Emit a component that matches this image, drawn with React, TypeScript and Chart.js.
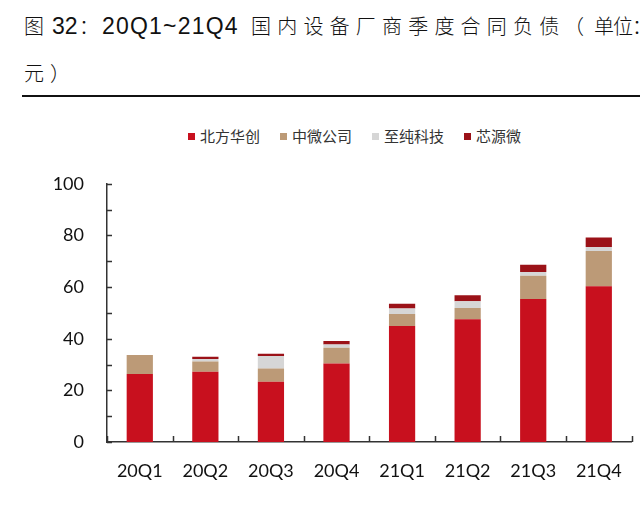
import { useEffect, useRef } from 'react';
import { Chart, registerables } from 'chart.js';

Chart.register(...registerables);

// ─── Data ─────────────────────────────────────────────────────────────────────

const QUARTERS = ['20Q1', '20Q2', '20Q3', '20Q4', '21Q1', '21Q2', '21Q3', '21Q4'];
const NAURA    = [26.3, 27.2, 23.3, 30.4, 44.9, 47.5, 55.4, 60.3]; // 北方华创
const AMEC     = [7.4, 4.0, 5.2, 6.1, 4.7, 4.4, 9.0, 13.7];        // 中微公司
const PNC      = [0, 0.9, 4.8, 1.3, 2.1, 2.6, 1.4, 1.5];           // 至纯科技
const KINGSEMI = [0, 0.9, 0.9, 1.3, 1.8, 2.3, 2.8, 3.7];           // 芯源微
const Y_TICKS  = [0, 20, 40, 60, 80, 100];

const SERIES = [
  { label: '北方华创', data: NAURA,    color: '#C8101E' },
  { label: '中微公司', data: AMEC,     color: '#BC9A77' },
  { label: '至纯科技', data: PNC,      color: '#D6D6D6' },
  { label: '芯源微',   data: KINGSEMI, color: '#9B1218' },
];

const CJK = '"Noto Sans CJK SC", "Liberation Sans", sans-serif';
const LATIN = '"Liberation Sans", Arial, sans-serif';
const AXIS_FONT = { family: 'Lato, "Liberation Sans", sans-serif', size: 18 };
const AXIS_COLOR = '#333';

// inward tick marks on both axes (Excel style)
const innerTicks = {
  id: 'innerTicks',
  afterDraw(chart: Chart) {
    const { ctx } = chart;
    const x = chart.scales.x;
    const y = chart.scales.y;
    ctx.save();
    ctx.strokeStyle = AXIS_COLOR;
    ctx.lineWidth = 1.5;
    ctx.beginPath();
    for (let v = 0; v <= 100; v += 10) {
      const py = Math.round(y.getPixelForValue(v)) + 0.5;
      ctx.moveTo(x.left, py);
      ctx.lineTo(x.left + 5, py);
    }
    const n = QUARTERS.length;
    for (let i = 0; i <= n; i++) {
      let px: number;
      if (i === 0) px = x.left;
      else if (i === n) px = x.right;
      else px = (x.getPixelForValue(i - 1) + x.getPixelForValue(i)) / 2;
      px = Math.round(px) + 0.5;
      ctx.moveTo(px, y.bottom);
      ctx.lineTo(px, y.bottom - 6);
    }
    ctx.stroke();
    ctx.restore();
  },
};

function ContractChart() {
  const canvasRef = useRef<HTMLCanvasElement>(null);
  const chartRef  = useRef<Chart | null>(null);

  useEffect(() => {
    if (!canvasRef.current) return;
    const existing = Chart.getChart(canvasRef.current);
    if (existing) existing.destroy();
    chartRef.current?.destroy();

    chartRef.current = new Chart(canvasRef.current, {
      type: 'bar',
      data: {
        labels: QUARTERS,
        datasets: SERIES.map(s => ({
          label: s.label,
          data: s.data,
          backgroundColor: s.color,
          borderWidth: 0,
          barPercentage: 0.4,
          categoryPercentage: 1,
        })),
      },
      options: {
        animation: false,
        responsive: false,
        maintainAspectRatio: false,
        // top label overflow (~9px) is added on top of this padding
        layout: { padding: { top: 22, right: 5.5, left: 0, bottom: 0 } },
        plugins: {
          legend: { display: false },
          tooltip: { enabled: false },
        },
        scales: {
          x: {
            stacked: true,
            grid: { display: false, drawTicks: false },
            border: { display: true, color: AXIS_COLOR, width: 1.5 },
            ticks: { font: AXIS_FONT, color: '#111', padding: 18, maxRotation: 0 },
            afterFit: (scale: any) => { scale.height = 68; },
          },
          y: {
            stacked: true,
            min: 0,
            max: 100,
            grid: { display: false, drawTicks: false },
            border: { display: true, color: AXIS_COLOR, width: 1.5 },
            ticks: {
              stepSize: 20,
              font: AXIS_FONT,
              color: '#111',
              padding: 23,
              callback: (v: any) => (Y_TICKS.includes(Number(v)) ? String(v) : ''),
            },
            afterFit: (scale: any) => { scale.width = 107; },
          },
        },
      },
      plugins: [innerTicks],
    });

    return () => { chartRef.current?.destroy(); chartRef.current = null; };
  }, []);

  return (
    <canvas
      ref={canvasRef}
      width={640}
      height={360}
      style={{ position: 'absolute', left: 0, top: 150, width: 640, height: 360 }}
    />
  );
}

const T = {
  position: 'absolute' as const, top: 12, lineHeight: '28px', color: '#111',
  whiteSpace: 'nowrap' as const, fontWeight: 300,
};

export default function App() {
  useEffect(() => { document.body.style.margin = '0'; }, []);

  return (
    <div style={{ position: 'relative', width: 640, height: 510, background: '#fff', overflow: 'hidden', fontFamily: CJK }}>
      <span style={{ ...T, left: 24, fontSize: 20 }}>图</span>
      <span style={{ ...T, left: 52, fontSize: 23, fontFamily: LATIN, fontWeight: 400 }}>32</span>
      <span style={{ ...T, left: 79, fontSize: 20 }}>：</span>
      <span style={{ ...T, left: 102, fontSize: 23, fontFamily: LATIN, fontWeight: 400, letterSpacing: 1.2 }}>20Q1~21Q4</span>
      <span style={{ ...T, left: 251, fontSize: 20, letterSpacing: 6.2 }}>国内设备厂商季度合同负债</span>
      <span style={{ ...T, left: 564, fontSize: 20 }}>（</span>
      <span style={{ ...T, left: 594, fontSize: 20, letterSpacing: -1 }}>单位：</span>
      <span style={{ ...T, left: 24, top: 59, fontSize: 20, letterSpacing: 6 }}>元）</span>
      <div style={{ position: 'absolute', left: 22, right: 0, top: 95, height: 2, background: '#111' }} />

      <div style={{
        position: 'absolute', left: 188, top: 126, display: 'flex', alignItems: 'center',
        fontSize: 15, lineHeight: '20px', color: '#333', whiteSpace: 'nowrap',
      }}>
        {SERIES.map(s => (
          <div key={s.label} style={{ display: 'flex', alignItems: 'center', marginRight: 20 }}>
            <span style={{ width: 7, height: 7, background: s.color, marginRight: 5, display: 'inline-block' }} />
            <span>{s.label}</span>
          </div>
        ))}
      </div>

      <ContractChart />
    </div>
  );
}
